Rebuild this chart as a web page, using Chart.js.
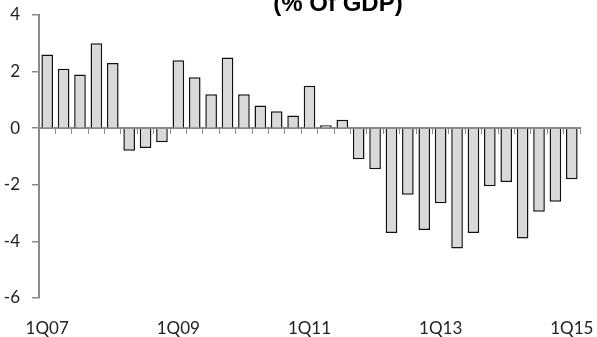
<!DOCTYPE html>
<html>
<head>
<meta charset="utf-8">
<script src="https://cdn.jsdelivr.net/npm/chart.js@4"></script>
<style>
  html, body { margin: 0; padding: 0; background: #fff; }
  #wrap { width: 597px; height: 337px; position: relative; }
</style>
</head>
<body>
<div id="wrap"><canvas id="c" width="597" height="337"></canvas></div>
<script>
// Quarterly balance, % of GDP
const quarters = [
  '1Q07','2Q07','3Q07','4Q07','1Q08','2Q08','3Q08','4Q08',
  '1Q09','2Q09','3Q09','4Q09','1Q10','2Q10','3Q10','4Q10',
  '1Q11','2Q11','3Q11','4Q11','1Q12','2Q12','3Q12','4Q12',
  '1Q13','2Q13','3Q13','4Q13','1Q14','2Q14','3Q14','4Q14',
  '1Q15'
];
const balance = [
  2.6, 2.1, 1.9, 3.0, 2.3, -0.8, -0.7, -0.5,
  2.4, 1.8, 1.2, 2.5, 1.2, 0.8, 0.6, 0.45,
  1.5, 0.1, 0.3, -1.1, -1.45, -3.7, -2.35, -3.6,
  -2.65, -4.25, -3.7, -2.05, -1.9, -3.9, -2.95, -2.6,
  -1.8
];
const yTicks = [-6, -4, -2, 0, 2, 4];
const chartTitle = '(% Of GDP)';

const axisGrey = '#8a8a8a';
const labelFont = { family: 'Lato', size: 17 };

const titlePlugin = {
  id: 'cutTitle',
  afterDraw(chart) {
    const ctx = chart.ctx;
    ctx.save();
    ctx.font = 'bold 24px "Liberation Sans", Arial, sans-serif';
    ctx.fillStyle = '#000';
    ctx.textAlign = 'center';
    ctx.textBaseline = 'alphabetic';
    ctx.fillText(chartTitle, 338, 11);
    ctx.restore();
  }
};

new Chart(document.getElementById('c'), {
  type: 'bar',
  data: {
    labels: quarters,
    datasets: [{
      data: balance,
      xAxisID: 'x',
      backgroundColor: '#d9d9d9',
      borderColor: '#111',
      borderWidth: 1.5,
      barPercentage: 0.71,
      categoryPercentage: 1
    }]
  },
  options: {
    responsive: false,
    animation: false,
    layout: { padding: { top: 15, right: 17, left: 0, bottom: 0 } },
    plugins: { legend: { display: false }, tooltip: { enabled: false } },
    scales: {
      x: {
        position: 'bottom',
        border: { display: false },
        grid: { display: false, drawTicks: false },
        ticks: {
          autoSkip: false,
          maxRotation: 0,
          padding: 20,
          color: '#222',
          font: labelFont,
          callback: (v, i) => (i % 8 === 0 ? quarters[i] : '')
        },
        afterFit: s => { s.height = 39; s.paddingLeft = 0; s.paddingRight = 0; }
      },
      x0: {
        type: 'category',
        position: { y: 0 },
        offset: true,
        border: { display: true, color: axisGrey, width: 2 },
        grid: { offset: true, drawOnChartArea: false, drawTicks: true, tickLength: 5, color: axisGrey, lineWidth: 1 },
        ticks: { display: false },
        afterFit: s => { s.paddingLeft = 0; s.paddingRight = 0; }
      },
      y: {
        min: -6,
        max: 4,
        afterBuildTicks: s => { s.ticks = yTicks.map(v => ({ value: v })); },
        border: { display: true, color: axisGrey, width: 2 },
        grid: { drawOnChartArea: false, drawTicks: true, tickLength: 7, color: axisGrey, lineWidth: 1.5 },
        ticks: { padding: 12, color: '#222', font: labelFont },
        afterFit: s => { s.width = 39; s.paddingTop = 0; s.paddingBottom = 0; }
      }
    }
  },
  plugins: [titlePlugin]
});
</script>
</body>
</html>
